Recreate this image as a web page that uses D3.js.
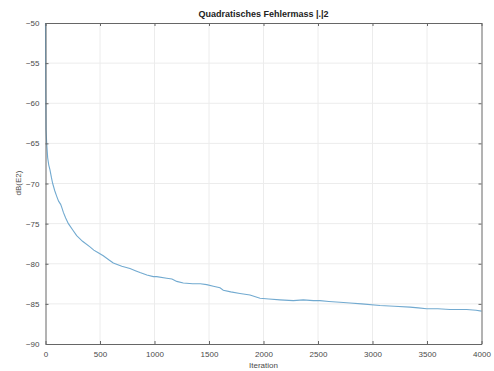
<!DOCTYPE html>
<html lang="en">
<head>
  <meta charset="utf-8">
  <title>Quadratisches Fehlermass</title>
  <script type="text/javascript" src="https://cdn.jsdelivr.net/npm/d3@7"></script>
  <style>
    body { margin: 0; background: #fff; }
    svg { display: block; font-family: "Liberation Sans", Arial, sans-serif; }
  </style>
</head>
<body>
  <div class="chart"></div>
  <script type="text/javascript">
    // values
    var iterations = [0, 2, 5, 11, 20, 30, 41, 55, 66, 85, 103, 120, 139, 150, 164, 185, 210, 250, 286, 340,
      408, 443, 480, 530, 580, 622, 700, 775, 830, 867, 930, 989, 1020, 1112, 1160, 1204, 1264, 1350, 1420,
      1479, 1540, 1601, 1631, 1700, 1784, 1876, 1968, 2050, 2151, 2273, 2365, 2457, 2518, 2600, 2702, 2794,
      2900, 3069, 3200, 3344, 3420, 3497, 3600, 3711, 3864, 3950, 4000];
    var errorDb = [-50, -58, -63.3, -65, -66.8, -67.7, -68.3, -69.3, -70, -70.9, -71.6, -72.2, -72.6, -73.0,
      -73.6, -74.3, -75.0, -75.8, -76.5, -77.2, -77.9, -78.3, -78.6, -79.0, -79.5, -79.9, -80.3, -80.6, -80.9,
      -81.1, -81.4, -81.6, -81.6, -81.8, -81.9, -82.2, -82.4, -82.5, -82.5, -82.6, -82.8, -83.0, -83.3, -83.5,
      -83.7, -83.9, -84.3, -84.4, -84.5, -84.6, -84.5, -84.6, -84.6, -84.7, -84.8, -84.9, -85.0, -85.2, -85.3,
      -85.4, -85.5, -85.6, -85.6, -85.7, -85.7, -85.8, -85.9];
    var xTicks = [0, 500, 1000, 1500, 2000, 2500, 3000, 3500, 4000];
    var yTicks = [-50, -55, -60, -65, -70, -75, -80, -85, -90];

    var w = 494,
      h = 371;
    var margin = { top: 23, right: 12.5, bottom: 27, left: 45.5 };
    var iw = w - margin.left - margin.right,
      ih = h - margin.top - margin.bottom;

    var svg = d3.select('.chart')
      .append('svg')
      .attr('width', w)
      .attr('height', h);

    var g = svg.append('g')
      .attr('transform', 'translate(' + margin.left + ',' + margin.top + ')');

    var x = d3.scaleLinear().domain([0, 4000]).range([0, iw]);
    var y = d3.scaleLinear().domain([-90, -50]).range([ih, 0]);

    // grid
    g.append('g').selectAll('line')
      .data(xTicks.slice(1, -1))
      .enter().append('line')
      .attr('x1', d => x(d)).attr('x2', d => x(d))
      .attr('y1', 0).attr('y2', ih)
      .attr('stroke', '#ececec').attr('stroke-width', 1);
    g.append('g').selectAll('line')
      .data(yTicks.slice(1, -1))
      .enter().append('line')
      .attr('y1', d => y(d)).attr('y2', d => y(d))
      .attr('x1', 0).attr('x2', iw)
      .attr('stroke', '#ececec').attr('stroke-width', 1);

    // the curve
    var pts = iterations.map((it, i) => [it, errorDb[i]]);
    var line = d3.line().x(d => x(d[0])).y(d => y(d[1]));
    g.append('path')
      .datum(pts)
      .attr('d', line)
      .attr('fill', 'none')
      .attr('stroke', '#72aad0')
      .attr('stroke-width', 1.1);

    // axes, matlab style: ticks inward, box all round
    var fmt = d3.format('d');
    var styleAxis = function(sel) {
      sel.select('.domain').attr('stroke', '#666');
      sel.selectAll('.tick line').attr('stroke', '#666');
      sel.selectAll('.tick text').attr('fill', '#4a4a4a').style('font-size', '8px');
    };

    g.append('g')
      .attr('transform', 'translate(0,' + ih + ')')
      .call(d3.axisBottom(x).tickValues(xTicks).tickFormat(fmt).tickSizeInner(-3).tickSizeOuter(0).tickPadding(9))
      .call(styleAxis)
      .call(a => a.selectAll('.tick text').attr('dy', '0.55em'));

    g.append('g')
      .call(d3.axisTop(x).tickValues(xTicks).tickSizeInner(-3).tickSizeOuter(0).tickFormat(''))
      .call(styleAxis);

    g.append('g')
      .call(d3.axisLeft(y).tickValues(yTicks).tickFormat(fmt).tickSizeInner(-3).tickSizeOuter(0).tickPadding(6))
      .call(styleAxis);

    g.append('g')
      .attr('transform', 'translate(' + iw + ',0)')
      .call(d3.axisRight(y).tickValues(yTicks).tickSizeInner(-3).tickSizeOuter(0).tickFormat(''))
      .call(styleAxis);

    // labels
    svg.append('text')
      .attr('x', margin.left + iw / 2)
      .attr('y', 17)
      .attr('text-anchor', 'middle')
      .style('font-size', '9px')
      .style('font-weight', 'bold')
      .attr('fill', '#222')
      .text('Quadratisches Fehlermass |.|2');

    svg.append('text')
      .attr('x', margin.left + iw / 2)
      .attr('y', 368)
      .attr('text-anchor', 'middle')
      .style('font-size', '8px')
      .attr('fill', '#4a4a4a')
      .text('Iteration');

    svg.append('text')
      .attr('transform', 'translate(21,183) rotate(-90)')
      .attr('text-anchor', 'middle')
      .style('font-size', '8px')
      .attr('fill', '#4a4a4a')
      .text('dB(E2)');
  </script>
</body>
</html>
